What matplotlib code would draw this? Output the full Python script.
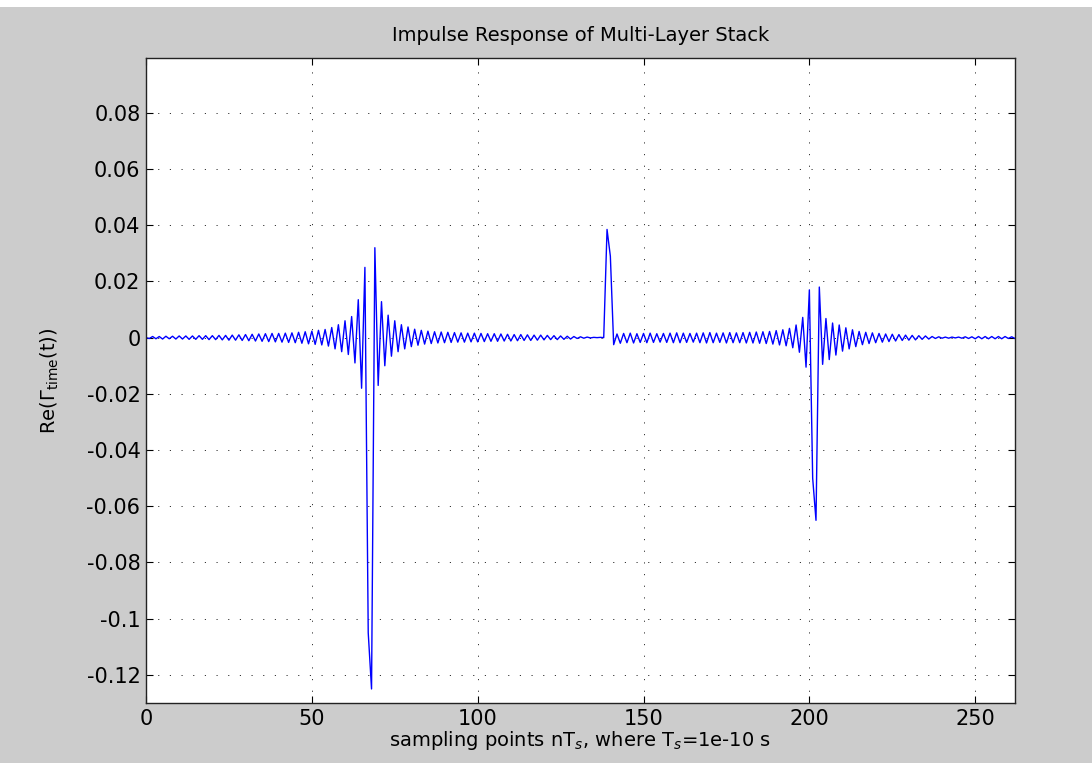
#Load packages
import numpy as np
import matplotlib
matplotlib.use('Agg')
import matplotlib.pyplot as plt
import matplotlib.patches as mpatches

# =============================================================================
# Data: Re(Gamma_time), one value per sampling point
# =============================================================================
quiet = [0.0, -0.0003, 0.0004, -0.0004, 0.0004, -0.0005, 0.0005, -0.0004, 0.0005, -0.0005,
         0.0006, -0.0005, 0.0006, -0.0006, 0.0006, -0.0006, 0.0007, -0.0006, 0.0007, -0.0007,
         0.0007, -0.0007, 0.0008, -0.0008, 0.0008, -0.0009, 0.0009, -0.0009, 0.0010, -0.0010,
         0.0011, -0.0011, 0.0012, -0.0012, 0.0013, -0.0013, 0.0014, -0.0014, 0.0015, -0.0015,
         0.0015, -0.0016, 0.0016, -0.0017]

echo1 = [0.0017, -0.0018, 0.0019, -0.0020, 0.0021, -0.0022, 0.0023, -0.0024, 0.0026, -0.0026,
         0.0029, -0.0030, 0.0036, -0.0040, 0.0046, -0.0050, 0.0060, -0.0060, 0.0075, -0.0090,
         0.0135, -0.0180, 0.0250, -0.1050, -0.1250, 0.0320, -0.0170, 0.0128, -0.0100, 0.0080,
         -0.0066, 0.0060, -0.0050, 0.0046, -0.0040, 0.0038, -0.0032, 0.0030, -0.0027, 0.0026,
         -0.0023, 0.0023, -0.0021, 0.0021, -0.0019, 0.0020, -0.0018, 0.0019, -0.0017, 0.0018,
         -0.0016, 0.0017, -0.0016, 0.0016, -0.0015, 0.0016]

decay = [-0.0015, 0.0015, -0.0014, 0.0014, -0.0013, 0.0014, -0.0013, 0.0013, -0.0012, 0.0012,
         -0.0012, 0.0011, -0.0011, 0.0011, -0.0010, 0.0010, -0.0010, 0.0009, -0.0009, 0.0009,
         -0.0008, 0.0008, -0.0007, 0.0007, -0.0007, 0.0006, -0.0006, 0.0005, -0.0005, 0.0004,
         -0.0003, 0.0003, -0.0002, 0.0002, -0.0001, 0.0001, 0.0000, 0.0001, 0.0000]

spike = [0.0385, 0.0290]

flat = [-0.0025, 0.0013, -0.0020, 0.0015, -0.0018, 0.0016, -0.0019, 0.0014, -0.0017, 0.0015,
        -0.0018, 0.0016, -0.0017, 0.0014, -0.0016, 0.0015, -0.0017, 0.0016, -0.0018, 0.0017,
        -0.0018, 0.0016, -0.0017, 0.0015, -0.0016, 0.0016, -0.0018, 0.0017, -0.0019, 0.0018,
        -0.0018, 0.0016, -0.0017, 0.0017, -0.0019, 0.0018, -0.0018, 0.0017, -0.0018, 0.0018,
        -0.0019, 0.0019, -0.0019, 0.0020, -0.0020, 0.0021, -0.0021, 0.0022, -0.0023, 0.0025,
        -0.0026, 0.0028, -0.0029, 0.0033, -0.0036, 0.0045]

echo2 = [-0.0052, 0.0072, -0.0105, 0.0170, -0.0500, -0.0650, 0.0180, -0.0095, 0.0068, -0.0078,
         0.0052, -0.0062, 0.0045, -0.0048, 0.0035, -0.0040, 0.0028, -0.0032, 0.0022, -0.0025,
         0.0019, -0.0021, 0.0017, -0.0018, 0.0015, -0.0016, 0.0013, -0.0014, 0.0012, -0.0012,
         0.0011, -0.0010, 0.0009, -0.0009, 0.0008, -0.0008, 0.0007, -0.0006, 0.0006, -0.0005,
         0.0004, -0.0003, 0.0003, -0.0002, 0.0002, -0.0002, 0.0002, -0.0001, 0.0002, -0.0002,
         0.0003, -0.0003, 0.0003, -0.0004, 0.0004, -0.0004, 0.0004, -0.0004, 0.0004, -0.0004,
         0.0004, -0.0004, 0.0004, -0.0003, 0.0003, -0.0003]

re_gamma = np.array(quiet + echo1 + decay + spike + flat + echo2)
n = np.arange(len(re_gamma))

xticks = [0, 50, 100, 150, 200, 250]
yticks = [-0.12, -0.1, -0.08, -0.06, -0.04, -0.02, 0, 0.02, 0.04, 0.06, 0.08]
ytick_labels = ['-0.12', '-0.1', '-0.08', '-0.06', '-0.04', '-0.02', '0',
                '0.02', '0.04', '0.06', '0.08']

# =============================================================================
# Plot Graph
# =============================================================================
plt.rcParams['font.family'] = ['DejaVu Sans']
plt.rcParams['mathtext.fontset'] = 'dejavusans'

fig = plt.figure(figsize=(10.92, 7.63), dpi=100, facecolor='#cccccc')
# thin white strip along the top edge of the screenshot
fig.patches.append(mpatches.Rectangle((0, 1 - 7/763), 1, 7/763, transform=fig.transFigure,
                                      facecolor='white', edgecolor='none', zorder=0))

ax = fig.add_axes([146/1092, 60/763, 869/1092, 645/763])
ax.set_facecolor('white')
ax.plot(n, re_gamma, color='#0000ff', linewidth=1.0)

ax.set_xlim(0, 262)
ax.set_ylim(-0.13, 0.0995)
ax.set_xticks(xticks)
ax.set_yticks(yticks)
ax.set_yticklabels(ytick_labels)

ax.grid(True, color='#333333', linestyle=(0, (1.2, 10.8)), linewidth=0.7)
ax.tick_params(direction='in', length=5, width=0.8, top=True, right=True,
               labelsize=15, colors='black', pad=4)
for s in ax.spines.values():
    s.set_linewidth(1.0)
    s.set_color('#222222')

ax.set_title('Impulse Response of Multi-Layer Stack', fontsize=14, pad=12)
ax.set_xlabel(r'sampling points nT$_s$, where T$_s$=1e-10 s', fontsize=14, labelpad=0)
ax.set_ylabel(r'Re($\Gamma_{\mathrm{time}}$(t))', fontsize=14, labelpad=18)

fig.savefig('out.png', dpi=100, facecolor=fig.get_facecolor())
